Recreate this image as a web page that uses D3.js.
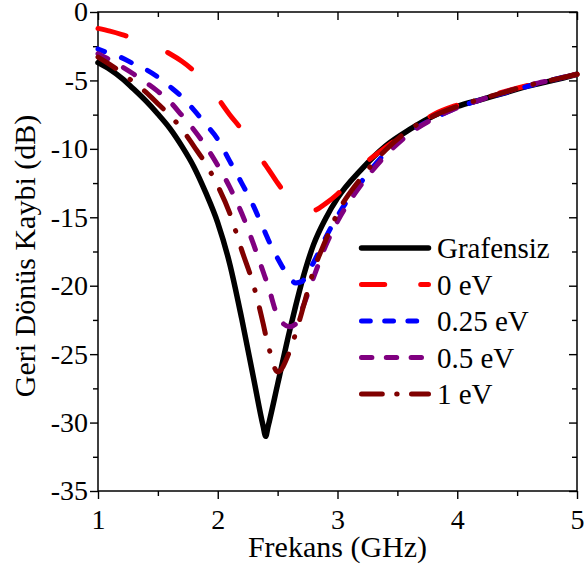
<!DOCTYPE html>
<html>
<head>
<meta charset="utf-8">
<script src="https://cdn.jsdelivr.net/npm/d3@7"></script>
<style>
  body { margin: 0; background: #fff; }
  svg { display: block; font-family: "Liberation Serif", "Times New Roman", serif; }
</style>
</head>
<body>
<svg id="chart" width="584" height="571"></svg>
<script>
// frequency grid (GHz), shared by every series
var freqGHz = [1.0, 1.1, 1.2, 1.3, 1.4, 1.5, 1.6, 1.7, 1.8, 1.9, 2.0, 2.1, 2.2, 2.3, 2.38, 2.4, 2.42,
  2.5, 2.6, 2.65, 2.7, 2.8, 2.9, 3.0, 3.2, 3.4, 3.6, 3.8, 4.0, 4.2, 4.4, 4.6, 4.8, 5.0];

// return loss (dB)
var lossGrafensiz = [-3.7, -4.2, -4.85, -5.65, -6.5, -7.45, -8.5, -9.8, -11.3, -13.2, -15.4, -18.4, -22.4, -26.8, -30.3, -31.0, -30.3,
  -27.2, -23.3, -21.5, -19.8, -17.0, -15.1, -13.6, -11.5, -9.8, -8.6, -7.6, -6.9, -6.4, -5.9, -5.4, -5.0, -4.55];
var loss0eV = [-1.2, -1.4, -1.65, -1.95, -2.25, -2.6, -3.05, -3.6, -4.3, -5.2, -6.3, -7.5, -8.6, -9.9, -10.95, -11.2, -11.45,
  -12.5, -13.6, -14.0, -14.35, -14.5, -14.0, -13.3, -11.3, -9.9, -8.7, -7.5, -6.8, -6.3, -5.8, -5.35, -4.95, -4.55];
var loss025eV = [-2.7, -3.05, -3.35, -3.8, -4.2, -4.75, -5.45, -6.2, -7.15, -8.2, -9.3, -10.9, -12.5, -14.2, -15.8, -16.2, -16.6,
  -18.0, -19.4, -19.8, -19.7, -18.3, -16.5, -14.9, -12.4, -10.3, -8.8, -7.8, -7.0, -6.4, -5.9, -5.4, -4.95, -4.55];
var loss05eV = [-3.05, -3.5, -4.0, -4.55, -5.15, -5.8, -6.55, -7.55, -8.6, -9.8, -11.2, -12.8, -14.7, -17.0, -19.0, -19.5, -20.0,
  -22.2, -23.0, -22.8, -21.8, -19.4, -17.1, -15.3, -12.6, -10.5, -8.9, -7.8, -7.0, -6.4, -5.85, -5.35, -4.95, -4.55];
var loss1eV = [-3.3, -3.85, -4.45, -5.15, -5.85, -6.7, -7.55, -8.55, -9.8, -11.1, -12.7, -14.7, -17.4, -20.0, -22.8, -23.6, -24.3,
  -26.3, -24.8, -23.5, -22.0, -18.9, -16.7, -14.7, -12.1, -10.1, -8.6, -7.6, -6.9, -6.35, -5.85, -5.35, -4.95, -4.55];

var seriesNames = ['Grafensiz', '0 eV', '0.25 eV', '0.5 eV', '1 eV'];

var xTicks = [1, 2, 3, 4, 5];
var xMinorTicks = [1.5, 2.5, 3.5, 4.5];
var yTicks = [-35, -30, -25, -20, -15, -10, -5, 0];
var yMinorTicks = [-32.5, -27.5, -22.5, -17.5, -12.5, -7.5, -2.5];

var plot = { left: 98, right: 577, top: 12, bottom: 491 };

var series = [
  { name: seriesNames[0], values: lossGrafensiz, color: '#000000', width: 5.5, dash: null, offset: 0 },
  { name: seriesNames[1], values: loss0eV, color: '#ff0000', width: 5, dash: [29, 45], offset: 0 },
  { name: seriesNames[2], values: loss025eV, color: '#0000ff', width: 5, dash: [11, 18], offset: 4 },
  { name: seriesNames[3], values: loss05eV, color: '#800080', width: 5, dash: [13, 18], offset: 2 },
  { name: seriesNames[4], values: loss1eV, color: '#800000', width: 5, dash: [26, 18, 0.5, 18], offset: 5 }
];

var svg = d3.select('#chart');

var x = d3.scaleLinear().domain([1, 5]).range([plot.left, plot.right]);
var y = d3.scaleLinear().domain([-35, 0]).range([plot.bottom, plot.top]);

function styleAxis(g) {
  g.attr('font-family', null).attr('font-size', null);
  g.select('.domain').remove();
  g.selectAll('.tick line').attr('stroke', '#000').attr('stroke-width', 1.4);
  g.selectAll('.tick text').attr('fill', '#000').style('font-size', '28px');
}

// bottom + left: outward ticks with labels
svg.append('g').attr('transform', 'translate(0,' + plot.bottom + ')')
  .call(d3.axisBottom(x).tickValues(xTicks).tickSize(8).tickPadding(10).tickFormat(d3.format('d')))
  .call(styleAxis);
svg.append('g').attr('transform', 'translate(0,' + plot.bottom + ')')
  .call(d3.axisBottom(x).tickValues(xMinorTicks).tickSize(5).tickFormat(''))
  .call(styleAxis);
svg.append('g').attr('transform', 'translate(' + plot.left + ',0)')
  .call(d3.axisLeft(y).tickValues(yTicks).tickSize(8).tickPadding(2).tickFormat(function(d) { return String(d); }))
  .call(styleAxis);
svg.append('g').attr('transform', 'translate(' + plot.left + ',0)')
  .call(d3.axisLeft(y).tickValues(yMinorTicks).tickSize(5).tickFormat(''))
  .call(styleAxis);

// top + right: inward ticks, no labels
svg.append('g').attr('transform', 'translate(0,' + plot.top + ')')
  .call(d3.axisTop(x).tickValues(xTicks).tickSize(-8).tickFormat(''))
  .call(styleAxis);
svg.append('g').attr('transform', 'translate(0,' + plot.top + ')')
  .call(d3.axisTop(x).tickValues(xMinorTicks).tickSize(-5).tickFormat(''))
  .call(styleAxis);
svg.append('g').attr('transform', 'translate(' + plot.right + ',0)')
  .call(d3.axisRight(y).tickValues(yTicks).tickSize(-8).tickFormat(''))
  .call(styleAxis);
svg.append('g').attr('transform', 'translate(' + plot.right + ',0)')
  .call(d3.axisRight(y).tickValues(yMinorTicks).tickSize(-5).tickFormat(''))
  .call(styleAxis);

// frame
svg.append('rect')
  .attr('x', plot.left).attr('y', plot.top)
  .attr('width', plot.right - plot.left).attr('height', plot.bottom - plot.top)
  .attr('fill', 'none').attr('stroke', '#000').attr('stroke-width', 1.5);

// curves
var line = d3.line()
  .x(function(d) { return x(d[0]); })
  .y(function(d) { return y(d[1]); })
  .curve(d3.curveMonotoneX);

series.forEach(function(s) {
  var pts = freqGHz.map(function(f, i) { return [f, s.values[i]]; });
  svg.append('path')
    .datum(pts)
    .attr('d', line)
    .attr('fill', 'none')
    .attr('stroke', s.color)
    .attr('stroke-width', s.width)
    .attr('stroke-linecap', 'round')
    .attr('stroke-linejoin', 'round')
    .attr('stroke-dasharray', s.dash ? s.dash.join(' ') : null)
    .attr('stroke-dashoffset', s.offset);
});

// legend
var legend = svg.append('g');
series.forEach(function(s, i) {
  var ly = 248 + i * 36.5;
  legend.append('line')
    .attr('x1', 361.5).attr('x2', 428.5).attr('y1', ly).attr('y2', ly)
    .attr('stroke', s.color)
    .attr('stroke-width', s.width)
    .attr('stroke-linecap', 'round')
    .attr('stroke-dasharray', s.dash ? s.dash.map(function(v) { return v * 0.8; }).join(' ') : null);
  legend.append('text')
    .attr('x', 437).attr('y', ly + 10)
    .style('font-size', '29px')
    .attr('fill', '#000')
    .text(s.name);
});

// axis titles
svg.append('text')
  .attr('x', (plot.left + plot.right) / 2).attr('y', 557)
  .attr('text-anchor', 'middle')
  .style('font-size', '30px')
  .text('Frekans (GHz)');

svg.append('text')
  .attr('transform', 'translate(35,256) rotate(-90)')
  .attr('text-anchor', 'middle')
  .style('font-size', '30px')
  .text('Geri Dönüs Kaybi (dB)');
</script>
</body>
</html>
